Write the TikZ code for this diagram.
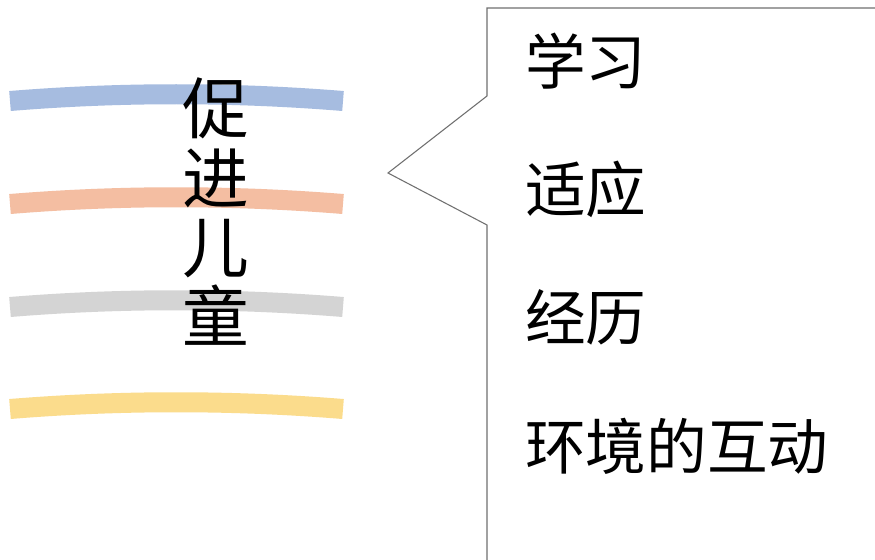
\documentclass[tikz,border=0pt]{standalone}
\usepackage{fontspec}
\newfontfamily\cjk{Noto Sans CJK SC}
\definecolor{lblue}{HTML}{A6BCE0}
\definecolor{lorange}{HTML}{F4BEA2}
\definecolor{lgray}{HTML}{D4D4D4}
\definecolor{lyellow}{HTML}{FBDC8C}
\definecolor{frame}{HTML}{707070}
\tikzset{
  band/.style={line width=15pt},
  item/.style={anchor=west, inner sep=0pt, font=\cjk\fontsize{45.5}{46}\selectfont},
  callout/.style={draw=frame, line width=0.8pt, line join=miter}
}
\begin{document}
\begin{tikzpicture}[x=0.75pt,y=-0.75pt]
\useasboundingbox (0,0) rectangle (875,560);
\fill[white] (0,0) rectangle (875,560);
\draw[band, lblue] (10,101) .. controls (120,92) and (232,92) .. (343,101);
\draw[band, lorange] (10,204) .. controls (120,195) and (232,195) .. (343,204);
\draw[band, lgray] (10,307) .. controls (120,298) and (232,298) .. (343,307);
\draw[band, lyellow] (10,409) .. controls (120,400) and (232,400) .. (343,409);
\node[align=center, inner sep=0pt, font=\cjk\fontsize{50}{52}\selectfont] (title) at (216,212) {促\\进\\儿\\童};
\draw[callout] (875,8) -- (487,8) -- (487,96) -- (388,173) -- (487,225) -- (487,560);
\node[item] (a) at (525,61) {学习};
\node[item] (b) at (525,189) {适应};
\node[item] (c) at (525,317) {经历};
\node[item] (d) at (525,446) {环境的互动};
\end{tikzpicture}
\end{document}
